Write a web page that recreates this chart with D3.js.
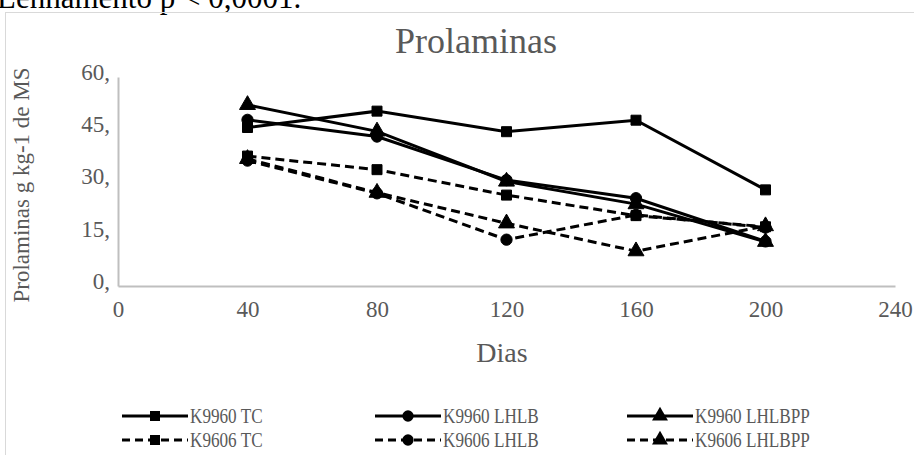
<!DOCTYPE html>
<html><head><meta charset="utf-8">
<script src="https://cdn.jsdelivr.net/npm/d3@7"></script>
<style>body{margin:0;background:#fff}svg{display:block}</style>
</head><body>
<script>
const days = [40, 80, 120, 160, 200];
const xTicks = [0, 40, 80, 120, 160, 200, 240];
const yTicks = [0, 15, 30, 45, 60];
const yTickLabels = ["0,", "15,", "30,", "45,", "60,"];
const seriesNames = ["K9960 TC", "K9960 LHLB", "K9960 LHLBPP", "K9606 TC", "K9606 LHLB", "K9606 LHLBPP"];
const k9960TC = [45.5, 50.2, 44.3, 47.6, 27.6];
const k9960LHLB = [47.7, 42.9, 30.4, 25.2, 12.8];
const k9960LHLBPP = [52.0, 44.4, 30.0, 23.5, 12.7];
const k9606TC = [37.3, 33.4, 26.1, 20.2, 17.0];
const k9606LHLB = [36.0, 26.6, 13.3, 20.4, 16.8];
const k9606LHLBPP = [36.5, 26.8, 18.0, 10.0, 17.2];
const seriesValues = [k9960TC, k9960LHLB, k9960LHLBPP, k9606TC, k9606LHLB, k9606LHLBPP];
const symbols = [d3.symbolSquare, d3.symbolCircle, d3.symbolTriangle, d3.symbolSquare, d3.symbolCircle, d3.symbolTriangle];
const dashed = [false, false, false, true, true, true];

const W = 914, H = 455;
const svg = d3.select("body").append("svg").attr("width", W).attr("height", H);
const font = "'Liberation Serif', 'Times New Roman', serif";
const grey = "#595959";

// cut-off text from document above
svg.append("text").attr("x", -3).attr("y", 8).attr("font-family", font).attr("font-size", 31)
  .attr("fill", "#000").text("Lenhamento p < 0,0001.");

// chart border
svg.append("rect").attr("x", 5.5).attr("y", 12.5).attr("width", 920).attr("height", 460)
  .attr("fill", "none").attr("stroke", "#d9d9d9").attr("stroke-width", 1);

const x = d3.scaleLinear().domain([0, 240]).range([118, 895]);
const y = d3.scaleLinear().domain([0, 60]).range([286, 77]);

// axes
const xAxis = svg.append("g").attr("transform", "translate(0,286)")
  .call(d3.axisBottom(x).tickValues(xTicks).tickSize(0).tickPadding(14).tickFormat(d3.format("d")));
const yAxis = svg.append("g").attr("transform", "translate(118,0)")
  .call(d3.axisLeft(y).tickValues(yTicks).tickSize(0).tickPadding(8).tickFormat((d, i) => yTickLabels[i]));
[xAxis, yAxis].forEach(g => {
  g.select(".domain").attr("stroke", "#bfbfbf").attr("stroke-width", 2);
  g.selectAll("text").attr("font-family", font).attr("font-size", 23).attr("fill", grey);
});
yAxis.selectAll("text").attr("dy", "0.1em");
xAxis.selectAll("text").attr("dy", "0.75em");

// titles
svg.append("text").attr("x", 476).attr("y", 53).attr("text-anchor", "middle")
  .attr("font-family", font).attr("font-size", 36).attr("fill", grey).text("Prolaminas");
svg.append("text").attr("x", 502).attr("y", 362).attr("text-anchor", "middle")
  .attr("font-family", font).attr("font-size", 28).attr("fill", grey).text("Dias");
svg.append("text").attr("transform", "translate(29,185) rotate(-90)").attr("text-anchor", "middle")
  .attr("font-family", font).attr("font-size", 23).attr("fill", grey).text("Prolaminas g kg-1 de MS");

const line = d3.line().x((d, i) => x(days[i])).y(d => y(d));
const symSize = [100, 100, 110, 100, 100, 110];

seriesValues.forEach((vals, s) => {
  const g = svg.append("g");
  g.append("path").datum(vals).attr("d", line).attr("fill", "none").attr("stroke", "#000")
    .attr("stroke-width", 3).attr("stroke-dasharray", dashed[s] ? "9,5" : null);
  g.selectAll("path.m").data(vals).join("path").attr("class", "m")
    .attr("transform", (d, i) => `translate(${x(days[i])},${y(d)})`)
    .attr("d", d3.symbol().type(symbols[s]).size(symSize[s]))
    .attr("fill", "#000").attr("stroke", "#000").attr("stroke-width", 1);
});

// legend
const legX = [122, 375, 627];
const legY = [416, 440];
seriesNames.forEach((name, s) => {
  const col = s % 3, row = Math.floor(s / 3);
  const lx = legX[col], ly = legY[row];
  const g = svg.append("g");
  g.append("line").attr("x1", lx).attr("x2", lx + 66).attr("y1", ly).attr("y2", ly)
    .attr("stroke", "#000").attr("stroke-width", 3).attr("stroke-dasharray", dashed[s] ? "8,5" : null);
  g.append("path").attr("transform", `translate(${lx + 33},${ly})`)
    .attr("d", d3.symbol().type(symbols[s]).size(symSize[s])).attr("fill", "#000");
  g.append("text").attr("transform", `translate(${lx + 68},${ly + 7}) scale(0.78,1)`)
    .attr("font-family", font).attr("font-size", 22).attr("fill", grey).text(name);
});
</script>
</body></html>
